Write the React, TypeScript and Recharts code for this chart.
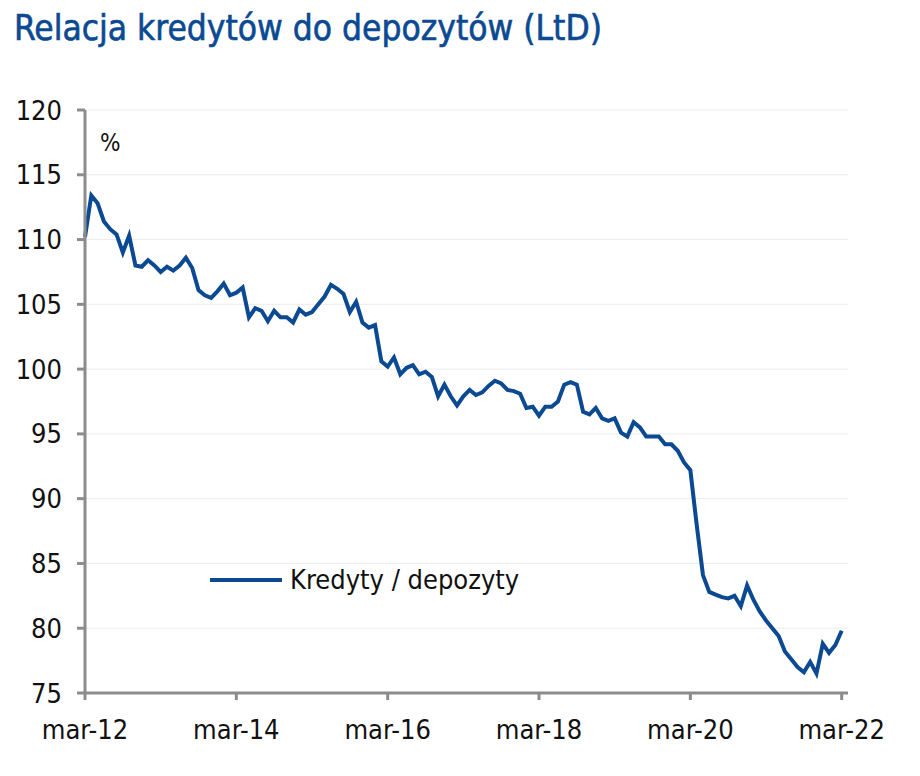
import { CartesianGrid, Line, LineChart, XAxis, YAxis } from 'recharts';

// miesięczne obserwacje, mar-12 ... mar-22
const ltdValues: number[] = [
  110.2, 113.4, 112.8, 111.4, 110.8, 110.4, 109.0, 110.3, 108.0, 107.9,
  108.4, 108.0, 107.5, 107.9, 107.6, 108.0, 108.6, 107.8, 106.1, 105.7,
  105.5, 106.0, 106.6, 105.7, 105.9, 106.3, 104.0, 104.7, 104.5, 103.7,
  104.5, 104.0, 104.0, 103.6, 104.6, 104.2, 104.4, 105.0, 105.6, 106.5,
  106.2, 105.8, 104.4, 105.2, 103.6, 103.2, 103.4, 100.6, 100.2, 100.9,
  99.6, 100.1, 100.3, 99.6, 99.8, 99.4, 97.9, 98.8, 97.9, 97.2,
  97.9, 98.4, 98.0, 98.2, 98.7, 99.1, 98.9, 98.4, 98.3, 98.1,
  97.0, 97.1, 96.4, 97.1, 97.1, 97.5, 98.8, 99.0, 98.8, 96.7,
  96.5, 97.0, 96.2, 96.0, 96.2, 95.1, 94.8, 95.9, 95.5, 94.8,
  94.8, 94.8, 94.2, 94.2, 93.7, 92.8, 92.2, 88.0, 84.1, 82.8,
  82.6, 82.4, 82.3, 82.5, 81.7, 83.3, 82.2, 81.3, 80.6, 80.0,
  79.4, 78.2, 77.6, 77.0, 76.6, 77.4, 76.5, 78.8, 78.1, 78.7,
  79.8
];

const xTicks = [0, 24, 48, 72, 96, 120];
const xTickLabels = ['mar-12', 'mar-14', 'mar-16', 'mar-18', 'mar-20', 'mar-22'];
const yTicks = [75, 80, 85, 90, 95, 100, 105, 110, 115, 120];

const BLUE = '#0b4a92';
const AXIS = '#8c8c8c';
const FONT = '"Liberation Sans Narrow", "DejaVu Sans Condensed", sans-serif';

const data = ltdValues.map((v, i) => ({ i, ltd: v }));

export default function App() {
  return (
    <div style={{ position: 'absolute', left: 0, top: 0, width: 920, height: 776, background: '#fff' }}>
      <div
        style={{
          position: 'absolute',
          left: 14,
          top: 8,
          fontFamily: FONT,
          fontSize: 35,
          color: BLUE,
          whiteSpace: 'nowrap',
          WebkitTextStroke: `0.6px ${BLUE}`
        }}
      >
        Relacja kredytów do depozytów (LtD)
      </div>
      <div style={{ position: 'absolute', left: 100, top: 129, fontFamily: FONT, fontSize: 24, color: '#111' }}>%</div>
      <LineChart width={920} height={776} data={data} margin={{ top: 110, right: 72, bottom: 53, left: 0 }}>
        <CartesianGrid horizontal vertical={false} stroke="#ececec" strokeWidth={1} />
        <XAxis
          dataKey="i"
          type="number"
          domain={[0, 121]}
          ticks={xTicks}
          tickFormatter={(v: number) => xTickLabels[xTicks.indexOf(v)] ?? ''}
          height={30}
          stroke={AXIS}
          strokeWidth={3}
          tickSize={7}
          tickMargin={20}
          tick={{ fill: '#111', fontSize: 27, fontFamily: FONT }}
          interval={0}
        />
        <YAxis
          domain={[75, 120]}
          ticks={yTicks}
          width={85}
          stroke={AXIS}
          strokeWidth={3}
          tickSize={8}
          tickMargin={15}
          tick={{ fill: '#111', fontSize: 27, fontFamily: FONT }}
          interval={0}
        />
        <Line
          type="linear"
          dataKey="ltd"
          stroke={BLUE}
          strokeWidth={4}
          dot={false}
          isAnimationActive={false}
        />
      </LineChart>
      <div
        style={{
          position: 'absolute',
          left: 210,
          top: 564,
          display: 'flex',
          alignItems: 'center',
          fontFamily: FONT,
          fontSize: 27,
          color: '#111'
        }}
      >
        <svg width={72} height={10}>
          <line x1={0} y1={5} x2={72} y2={5} stroke={BLUE} strokeWidth={4} />
        </svg>
        <span style={{ marginLeft: 8 }}>Kredyty / depozyty</span>
      </div>
    </div>
  );
}
